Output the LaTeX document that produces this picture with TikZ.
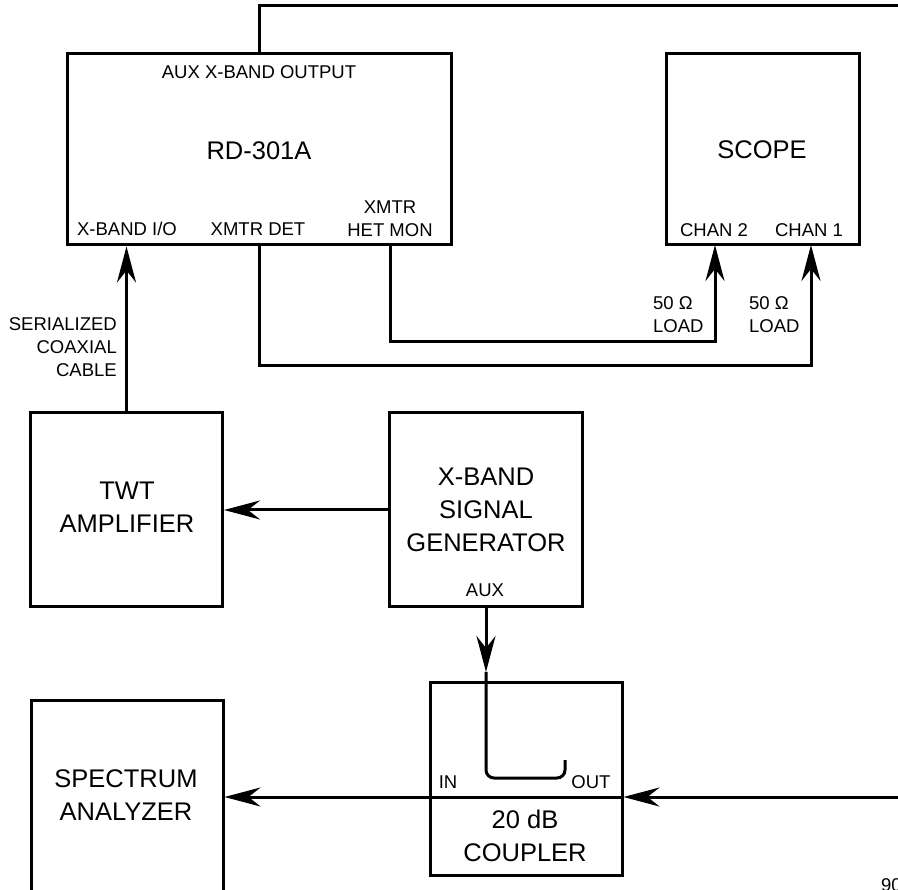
\documentclass[tikz,border=0pt]{standalone}
\usepackage{fontspec}
\setmainfont{Liberation Sans}
\usetikzlibrary{arrows.meta,positioning,calc}
\tikzset{>={Stealth[length=36pt,width=19pt,inset=12pt]},every node/.style={inner sep=0pt},
 block/.style={draw,line width=3pt,minimum width=192pt,minimum height=193pt},
 big/.style={font=\fontsize{25.5}{33}\selectfont,align=center},
 lbl/.style={font=\fontsize{18.5}{23}\selectfont,align=center},
 wire/.style={line width=3pt}}

\begin{document}
\begin{tikzpicture}[x=1pt,y=-1pt]
\useasboundingbox (0,0) rectangle (898,890);
% boxes
\node[block,minimum width=384pt,minimum height=191pt] (rd) at (259,149.5) {};
\node[block,minimum width=193pt,minimum height=191pt] (scope) at (762.5,149.5) {};
\node[block,minimum height=194pt] (twt) at (126.5,510) {};
\node[block,minimum width=193pt,minimum height=194pt] (gen) at (485.5,510) {};
\node[block] (coup) at (526,778.5) {};
\node[block,minimum height=210pt] (spec) at (127,805) {};
% texts
\node[big] (rdname) at (259,151) {RD-301A};
\node[big] (scopename) at (762,150) {SCOPE};
\node[big] (twtname) at (127,507) {TWT\\AMPLIFIER};
\node[big] (genname) at (486,510) {X-BAND\\SIGNAL\\GENERATOR};
\node[big] (coupname) at (525,836) {20 dB\\COUPLER};
\node[big] (specname) at (126,795.5) {SPECTRUM\\ANALYZER};
\foreach \p/\n/\t in {(259,72)/auxout/{AUX X-BAND OUTPUT},(127,229)/xio/{X-BAND I/O},
 (258,229)/xdet/{XMTR DET},(390,219)/hetmon/{XMTR\\HET MON},(714,230)/chtwo/{CHAN 2},
 (809,230)/chone/{CHAN 1},(485,590)/genaux/{AUX},(448,782)/cin/{IN},(591,782)/cout/{OUT}}
 {\node[lbl] (\n) at \p {\t};}
\node[lbl,align=left,anchor=west] (loadtwo) at (653,314.5) {50 Ω\\LOAD};
\node[lbl,align=left,anchor=west] (loadone) at (749,314.5) {50 Ω\\LOAD};
\node[lbl,align=right,anchor=east] (coax) at (117,347) {SERIALIZED\\COAXIAL\\CABLE};
\node[lbl,anchor=north west] (fignum) at (881,878) {90};
% ports
\coordinate (pdet) at (259,245);
\coordinate (phet) at (390,245);
\coordinate (pch2) at (715,245);
\coordinate (pch1) at (811,245);
\coordinate (ptop) at (898,6);
\coordinate (pfeed) at (898,797);
\coordinate (pcpl) at (486,672);
% wiring
\draw[wire] (rd.north) |- (ptop);
\draw[wire,->] (twt.north) -- (twt.north |- rd.south);
\draw[wire,->] (phet) -- (390,342) -| (pch2);
\draw[wire,->] (pdet) -- (259,366) -| (pch1);
\draw[wire,->] (gen.west) -- (twt.east);
\draw[wire,->] (gen.south -| pcpl) -- (pcpl);
\draw[wire,rounded corners=8pt] (pcpl) -- (486,778) -- (565,778) -- (565,760);
\draw[wire,->] (pfeed) -- (coup.east |- pfeed);
\draw[wire,->] (coup.east |- pfeed) -- (spec.east |- pfeed);
\end{tikzpicture}
\end{document}
